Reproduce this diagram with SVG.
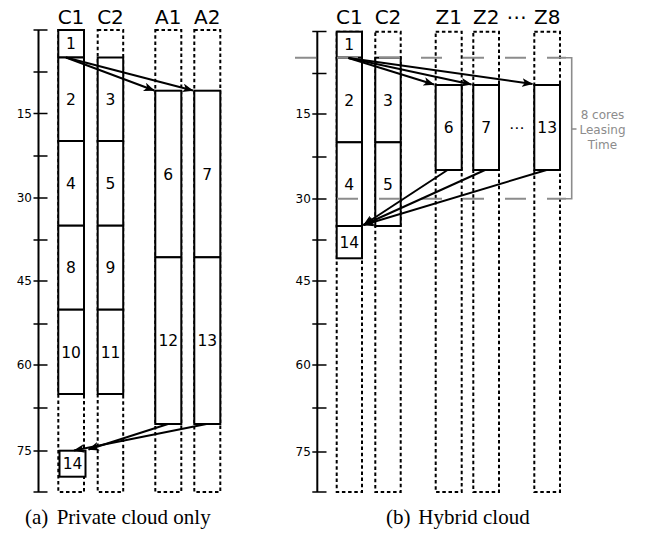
<svg xmlns="http://www.w3.org/2000/svg" width="646" height="533" viewBox="0 0 646 533">
<style>
.sol{fill:#fff;stroke:#000;stroke-width:2}
.dsh{fill:none;stroke:#000;stroke-width:2;stroke-dasharray:3.5,2.7}
.ax{fill:none;stroke:#000;stroke-width:2}
.tk{stroke:#000;stroke-width:1.6}
.tl{font-family:"DejaVu Sans",sans-serif;font-size:12px;text-anchor:end;fill:#000}
.bl{font-family:"DejaVu Sans",sans-serif;font-size:15.5px;text-anchor:middle;fill:#000}
.cl{font-family:"DejaVu Sans",sans-serif;font-size:20px;text-anchor:middle;fill:#000}
.cap{font-family:"Liberation Serif","Times New Roman",serif;font-size:21px;fill:#000}
.gl{fill:none;stroke:#8c8c8c;stroke-width:2;stroke-dasharray:21,21}
.gb{fill:none;stroke:#8c8c8c;stroke-width:1.6}
.gt{font-family:"DejaVu Sans",sans-serif;font-size:12px;text-anchor:middle;fill:#8c8c8c}
.ar{fill:none;stroke:#000;stroke-width:2;marker-end:url(#ah)}
</style>
<defs>
<marker id="ah" viewBox="0 0 10 8" refX="9.5" refY="4" markerWidth="11" markerHeight="8.8" markerUnits="userSpaceOnUse" orient="auto"><path d="M0,0 L10,4 L0,8 L2.5,4 z" fill="#000"/></marker>
</defs>
<rect width="646" height="533" fill="#fff"/>

<!-- ===== Panel (a) ===== -->
<g id="axis-a">
<line class="ax" x1="38.5" y1="30" x2="38.5" y2="492"/>
<path class="tk" d="M33.5,30H47.5M33.5,72H47.5M33.5,113.5H47.5M33.5,156H47.5M33.5,198H47.5M33.5,240H47.5M33.5,281H47.5M33.5,324H47.5M33.5,365H47.5M33.5,408H47.5M33.5,451H47.5M33.5,492H47.5"/>
<text class="tl" x="32" y="117.8">15</text>
<text class="tl" x="32" y="202.3">30</text>
<text class="tl" x="32" y="285.3">45</text>
<text class="tl" x="32" y="369.3">60</text>
<text class="tl" x="32" y="455.3">75</text>
</g>
<g id="col-a-C1">
<text class="cl" x="71" y="24">C1</text>
<rect class="dsh" x="58.3" y="30" width="25.7" height="462"/>
<rect class="sol" x="58.3" y="30" width="25.7" height="27.5"/><text class="bl" x="71" y="49.3">1</text>
<rect class="sol" x="58.3" y="57.5" width="25.7" height="83.5"/><text class="bl" x="71" y="105">2</text>
<rect class="sol" x="58.3" y="141" width="25.7" height="84.7"/><text class="bl" x="71" y="189.1">4</text>
<rect class="sol" x="58.3" y="225.7" width="25.7" height="84"/><text class="bl" x="71" y="273.4">8</text>
<rect class="sol" x="58.3" y="309.7" width="25.7" height="84.3"/><text class="bl" x="71" y="357.6">10</text>
<rect class="sol" x="59.5" y="450.7" width="26" height="26"/><text class="bl" x="72.5" y="469.4">14</text>
</g>
<g id="col-a-C2">
<text class="cl" x="110.5" y="24">C2</text>
<rect class="dsh" x="97.7" y="30" width="25.5" height="462"/>
<rect class="sol" x="97.7" y="57.5" width="25.5" height="83.5"/><text class="bl" x="110.5" y="105">3</text>
<rect class="sol" x="97.7" y="141" width="25.5" height="84.7"/><text class="bl" x="110.5" y="189.1">5</text>
<rect class="sol" x="97.7" y="225.7" width="25.5" height="84"/><text class="bl" x="110.5" y="273.4">9</text>
<rect class="sol" x="97.7" y="309.7" width="25.5" height="84.3"/><text class="bl" x="110.5" y="357.6">11</text>
</g>
<g id="col-a-A1">
<text class="cl" x="168.3" y="24">A1</text>
<rect class="dsh" x="155.3" y="30" width="26" height="462"/>
<rect class="sol" x="155.3" y="90.7" width="26" height="166.6"/><text class="bl" x="168.3" y="179.7">6</text>
<rect class="sol" x="155.3" y="257.3" width="26" height="166.7"/><text class="bl" x="168.3" y="346.4">12</text>
</g>
<g id="col-a-A2">
<text class="cl" x="207.3" y="24">A2</text>
<rect class="dsh" x="194.3" y="30" width="26" height="462"/>
<rect class="sol" x="194.3" y="90.7" width="26" height="166.6"/><text class="bl" x="207.3" y="179.7">7</text>
<rect class="sol" x="194.3" y="257.3" width="26" height="166.7"/><text class="bl" x="207.3" y="346.4">13</text>
</g>

<!-- ===== Panel (b) ===== -->
<g id="axis-b">
<line class="ax" x1="317.3" y1="31.5" x2="317.3" y2="492"/>
<path class="tk" d="M312.3,31.5H326.5M312.3,73.5H326.5M312.3,114H326.5M312.3,157H326.5M312.3,199H326.5M312.3,240H326.5M312.3,281H326.5M312.3,324H326.5M312.3,365H326.5M312.3,408H326.5M312.3,452H326.5M312.3,492H326.5"/>
<text class="tl" x="310.8" y="118.3">15</text>
<text class="tl" x="310.8" y="203.3">30</text>
<text class="tl" x="310.8" y="285.3">45</text>
<text class="tl" x="310.8" y="369.3">60</text>
<text class="tl" x="310.8" y="456.3">75</text>
</g>
<g id="col-b-C1">
<text class="cl" x="349.3" y="24">C1</text>
<rect class="dsh" x="336.7" y="31.7" width="25.3" height="460.3"/>
<rect class="sol" x="336.7" y="31.7" width="25.3" height="26"/><text class="bl" x="349.3" y="50.4">1</text>
<rect class="sol" x="336.7" y="57.7" width="25.3" height="84.6"/><text class="bl" x="349.3" y="105.7">2</text>
<rect class="sol" x="336.7" y="142.3" width="25.3" height="83.7"/><text class="bl" x="349.3" y="189.9">4</text>
<rect class="sol" x="336.7" y="226" width="25.3" height="32.3"/><text class="bl" x="349.3" y="247.9">14</text>
</g>
<g id="col-b-C2">
<text class="cl" x="388" y="24">C2</text>
<rect class="dsh" x="375.3" y="31.7" width="25.4" height="460.3"/>
<rect class="sol" x="375.3" y="57.7" width="25.4" height="84.6"/><text class="bl" x="388" y="105.7">3</text>
<rect class="sol" x="375.3" y="142.3" width="25.4" height="83.7"/><text class="bl" x="388" y="189.9">5</text>
</g>
<g id="col-b-Z1">
<text class="cl" x="448.7" y="24">Z1</text>
<rect class="dsh" x="435.7" y="31.7" width="26" height="460.3"/>
<rect class="sol" x="435.7" y="85" width="26" height="85"/><text class="bl" x="448.7" y="133.2">6</text>
</g>
<g id="col-b-Z2">
<text class="cl" x="486.2" y="24">Z2</text>
<rect class="dsh" x="473.3" y="31.7" width="25.7" height="460.3"/>
<rect class="sol" x="473.3" y="85" width="25.7" height="85"/><text class="bl" x="486.2" y="133.2">7</text>
</g>
<g id="col-b-Z8">
<text class="cl" x="547.2" y="24">Z8</text>
<rect class="dsh" x="534.3" y="31.7" width="25.7" height="460.3"/>
<rect class="sol" x="534.3" y="85" width="25.7" height="85"/><text class="bl" x="547.2" y="133.2">13</text>
</g>
<g id="ellipses">
<text class="cl" x="516.7" y="24">⋯</text>
<text class="bl" x="516.7" y="133.2">⋯</text>
</g>
<g id="leasing">
<line class="gl" x1="295" y1="57.7" x2="566" y2="57.7"/>
<line class="gl" x1="337" y1="198.7" x2="566" y2="198.7"/>
<path class="gb" d="M566,57.7H571.7V198.7H566M571.7,129H576.5"/>
<text class="gt" x="602.5" y="119">8 cores</text>
<text class="gt" x="602.5" y="134">Leasing</text>
<text class="gt" x="602.5" y="149">Time</text>
</g>

<g id="connectors">
<line class="ar" x1="66" y1="57.5" x2="154.3" y2="90.5"/>
<line class="ar" x1="66" y1="57.5" x2="193" y2="90.5"/>
<line class="ar" x1="168" y1="424" x2="88.5" y2="449.5"/>
<line class="ar" x1="206.5" y1="424" x2="74" y2="450.5"/>
<line class="ar" x1="348.5" y1="58" x2="434" y2="84.5"/>
<line class="ar" x1="348.5" y1="58" x2="471.5" y2="84.5"/>
<line class="ar" x1="348.5" y1="58" x2="532.5" y2="84"/>
<line class="ar" x1="447.5" y1="170" x2="363.5" y2="225"/>
<line class="ar" x1="485" y1="170" x2="363.5" y2="225"/>
<line class="ar" x1="546.5" y1="170" x2="363.5" y2="225"/>
</g>

<g id="captions">
<text class="cap" y="524.3"><tspan x="25">(a)</tspan><tspan x="56.7">Private cloud only</tspan></text>
<text class="cap" y="524.3"><tspan x="386">(b)</tspan><tspan x="418.3">Hybrid cloud</tspan></text>
</g>
</svg>
